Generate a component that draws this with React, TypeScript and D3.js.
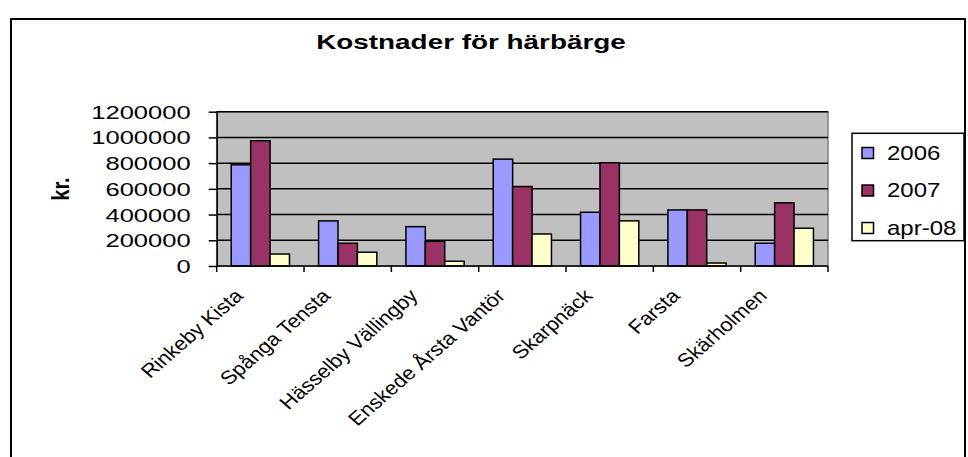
import { useRef, useEffect } from "react";
import * as d3 from "d3";

const categories = [
  "Rinkeby Kista",
  "Spånga Tensta",
  "Hässelby Vällingby",
  "Enskede Årsta Vantör",
  "Skarpnäck",
  "Farsta",
  "Skärholmen",
];
const seriesNames = ["2006", "2007", "apr-08"];
const values2006 = [787000, 351000, 306000, 831000, 418000, 436000, 177000];
const values2007 = [974000, 177000, 192000, 618000, 803000, 436000, 491000];
const valuesApr08 = [93000, 107000, 37000, 249000, 351000, 23000, 294000];
const yTicks = [0, 200000, 400000, 600000, 800000, 1000000, 1200000];
const seriesColors = ["#9999FF", "#993366", "#FFFFCC"];

const FONT = "'Liberation Sans', Arial, sans-serif";

export default function App() {
  const ref = useRef<SVGSVGElement | null>(null);

  useEffect(() => {
    if (!ref.current) return;
    const svg = d3.select(ref.current);
    svg.selectAll("*").remove();

    const width = 968;
    const height = 457;
    const plot = { left: 216.7, right: 828, top: 111.7, bottom: 266 };

    const allSeries = [values2006, values2007, valuesApr08];

    const x0 = d3.scaleBand<string>().domain(categories).range([plot.left, plot.right]).padding(0);
    const x1 = d3
      .scaleBand<string>()
      .domain(seriesNames)
      .range([0, x0.bandwidth()])
      .paddingInner(0)
      .paddingOuter(0.75);
    const y = d3.scaleLinear().domain([0, 1200000]).range([plot.bottom, plot.top]);

    svg.attr("width", width).attr("height", height).attr("viewBox", `0 0 ${width} ${height}`);

    // outer chart frame
    svg
      .append("rect")
      .attr("x", 11)
      .attr("y", 19)
      .attr("width", 954)
      .attr("height", 500)
      .attr("fill", "white")
      .attr("stroke", "black")
      .attr("stroke-width", 2);

    // title
    svg
      .append("text")
      .attr("transform", `translate(471,49) scale(1.36,1)`)
      .attr("text-anchor", "middle")
      .attr("font-family", FONT)
      .attr("font-weight", "bold")
      .attr("font-size", 20.5)
      .text("Kostnader för härbärge");

    // plot area background
    svg
      .append("rect")
      .attr("x", plot.left)
      .attr("y", plot.top)
      .attr("width", plot.right - plot.left)
      .attr("height", plot.bottom - plot.top)
      .attr("fill", "#C0C0C0")
      .attr("stroke", "#808080")
      .attr("stroke-width", 1.5);

    // gridlines
    svg
      .append("g")
      .selectAll("line")
      .data(yTicks.filter((t) => t > 0))
      .join("line")
      .attr("x1", plot.left)
      .attr("x2", plot.right)
      .attr("y1", (d) => y(d))
      .attr("y2", (d) => y(d))
      .attr("stroke", "black")
      .attr("stroke-width", 1.5);

    // bars
    svg
      .append("g")
      .selectAll("g")
      .data(allSeries)
      .join("g")
      .attr("fill", (_, i) => seriesColors[i])
      .each(function (vals, si) {
        d3.select(this)
          .selectAll("rect")
          .data(vals)
          .join("rect")
          .attr("x", (_, i) => (x0(categories[i]) as number) + (x1(seriesNames[si]) as number))
          .attr("y", (d) => y(d))
          .attr("width", x1.bandwidth())
          .attr("height", (d) => y(0) - y(d))
          .attr("stroke", "black")
          .attr("stroke-width", 1.5);
      });

    // y axis
    const yAxis = svg
      .append("g")
      .attr("transform", `translate(${plot.left},0)`)
      .call(d3.axisLeft(y).tickValues(yTicks).tickSize(8).tickSizeOuter(0).tickFormat(d3.format("d")));
    yAxis.select(".domain").attr("stroke", "black").attr("stroke-width", 1.5);
    yAxis.selectAll(".tick line").attr("stroke", "black").attr("stroke-width", 1.5);
    yAxis
      .selectAll(".tick text")
      .attr("x", null)
      .attr("dy", "0.36em")
      .attr("transform", "translate(-26,0) scale(1.42,1)")
      .attr("font-family", FONT)
      .attr("font-size", 18)
      .attr("fill", "black");

    // x axis line and category boundary ticks
    const xAxis = svg.append("g");
    xAxis
      .append("line")
      .attr("x1", plot.left)
      .attr("x2", plot.right)
      .attr("y1", plot.bottom)
      .attr("y2", plot.bottom)
      .attr("stroke", "black")
      .attr("stroke-width", 1.5);
    const bounds = categories.map((c) => x0(c) as number).concat([plot.right]);
    xAxis
      .selectAll("line.tick")
      .data(bounds)
      .join("line")
      .attr("class", "tick")
      .attr("x1", (d) => d)
      .attr("x2", (d) => d)
      .attr("y1", plot.bottom)
      .attr("y2", plot.bottom + 6)
      .attr("stroke", "black")
      .attr("stroke-width", 1.5);

    // rotated category labels
    xAxis
      .selectAll("text")
      .data(categories)
      .join("text")
      .attr(
        "transform",
        (d) => `translate(${(x0(d) as number) + x0.bandwidth() / 2 - 16},297) scale(1.15,1) rotate(-45)`
      )
      .attr("text-anchor", "end")
      .attr("font-family", FONT)
      .attr("font-size", 19)
      .text((d) => d);

    // y axis title
    svg
      .append("text")
      .attr("transform", "translate(69,189) scale(1.2,1) rotate(-90)")
      .attr("text-anchor", "middle")
      .attr("font-family", FONT)
      .attr("font-weight", "bold")
      .attr("font-size", 20)
      .text("kr.");

    // legend
    const legend = svg.append("g");
    legend
      .append("rect")
      .attr("x", 852)
      .attr("y", 133.3)
      .attr("width", 112)
      .attr("height", 107.4)
      .attr("fill", "white")
      .attr("stroke", "black")
      .attr("stroke-width", 1.5);
    const rows = legend
      .selectAll("g.row")
      .data(seriesNames)
      .join("g")
      .attr("class", "row")
      .attr("transform", (_, i) => `translate(0,${i * 37.5})`);
    rows
      .append("rect")
      .attr("x", 862)
      .attr("y", 147.5)
      .attr("width", 11.5)
      .attr("height", 11)
      .attr("fill", (_, i) => seriesColors[i])
      .attr("stroke", "black")
      .attr("stroke-width", 1.5);
    rows
      .append("text")
      .attr("transform", "translate(887,159.5) scale(1.2,1)")
      .attr("font-family", FONT)
      .attr("font-size", 20)
      .text((d) => d);
  }, []);

  return (
    <svg
      ref={ref}
      style={{ position: "absolute", left: 0, top: 0, display: "block" }}
    />
  );
}
